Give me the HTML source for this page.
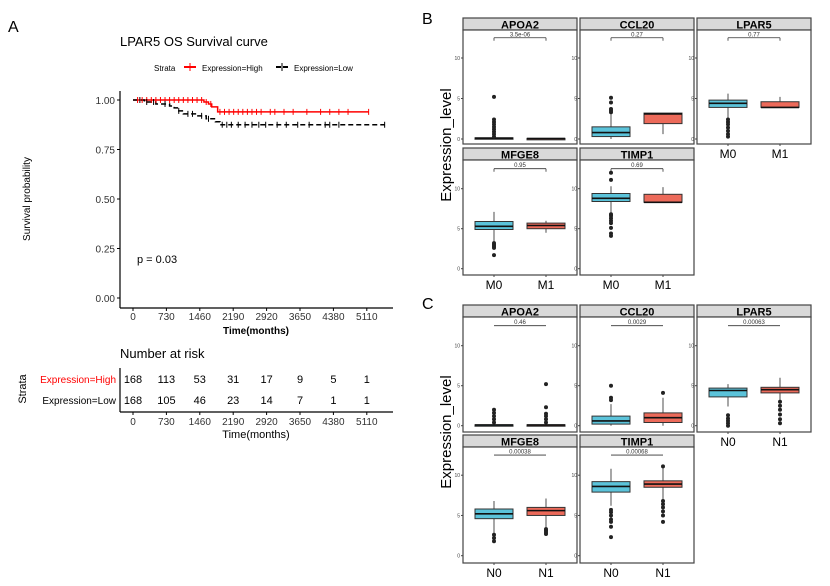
<!DOCTYPE html>
<html><head><meta charset="utf-8">
<style>
body{margin:0;background:#fff;}
svg{display:block;font-family:"Liberation Sans",Arial,sans-serif;}
</style></head>
<body>
<svg id="fig" width="830" height="586" viewBox="0 0 830 586">
</svg>
<script>
// ---- Survival data ----
const timeTicks = [0,730,1460,2190,2920,3650,4380,5110];
const survTicks = [0,0.25,0.5,0.75,1.0];
const survTickLabels = ["0.00","0.25","0.50","0.75","1.00"];
const highTimes = [0,1550,1650,1720,1850,5150];
const highSurv  = [1.0,0.99,0.98,0.965,0.94,0.94];
const highCens  = [100,200,300,400,500,600,700,800,900,1000,1100,1200,1300,1400,1500,1600,1700,1900,2000,2100,2200,2300,2400,2500,2600,2700,2800,3000,3100,3300,3500,3800,4100,4300,4500,4700,5150];
const lowTimes = [0,250,500,800,900,1000,1100,1400,1600,1800,1900,5500];
const lowSurv  = [1.0,0.99,0.98,0.97,0.96,0.945,0.93,0.92,0.905,0.89,0.875,0.875];
const lowCens  = [150,300,450,700,1000,1200,1300,1500,1650,1950,2050,2150,2300,2450,2600,2750,2900,3150,3350,3600,3850,4200,4300,4500,5500];
const riskHigh = [168,113,53,31,17,9,5,1];
const riskLow  = [168,105,46,23,14,7,1,1];

// ---- Boxplot data: [q1, median, q3, whiskerLow, whiskerHigh] ----
const genes = ["APOA2","CCL20","LPAR5","MFGE8","TIMP1"];
const pB = ["3.5e-06","0.27","0.77","0.95","0.69"];
const pC = ["0.46","0.0029","0.00063","0.00038","0.00068"];
const boxB0 = [[0,0.1,0.15,0,0.15],[0.3,0.8,1.5,0,3.2],[3.9,4.4,4.8,2.6,5.6],[4.9,5.3,5.9,3.4,7.1],[8.4,8.8,9.4,7.0,10.3]];
const boxB1 = [[0,0.05,0.08,0,0.08],[1.9,3.1,3.2,0.6,3.2],[3.9,3.9,4.6,3.9,5.2],[5.0,5.4,5.7,4.5,6.0],[8.3,8.3,9.3,8.3,10.2]];
const outB0 = [[0.3,0.6,0.9,1.2,1.5,1.8,2.1,2.4,5.2],[3.3,3.5,3.7,4.5,5.1],[0.3,0.6,1.0,1.4,1.8,2.1,2.4],[1.7,2.6,2.8,3.0,3.2],[4.1,4.4,5.1,5.7,6.0,6.3,6.6,6.8,11.1,12.0]];
const outB1 = [[],[],[],[],[]];
const boxC0 = [[0,0.08,0.12,0,0.12],[0.2,0.6,1.2,0,2.7],[3.6,4.4,4.7,2.4,5.2],[4.6,5.2,5.8,2.8,6.8],[7.9,8.6,9.2,6.2,10.8]];
const boxC1 = [[0,0.08,0.12,0,0.12],[0.4,1.0,1.6,0,3.5],[4.1,4.5,4.8,3.2,6.0],[5.0,5.6,6.0,3.5,7.1],[8.5,8.9,9.3,7.0,10.9]];
const outC0 = [[0.4,0.8,1.2,1.6,2.0],[3.2,3.5,5.0],[0,0.3,0.6,0.9,1.3],[1.8,2.2,2.6],[2.3,3.6,4.2,4.5,5.0,5.4,5.7]];
const outC1 = [[0.4,0.8,1.2,1.5,2.3,5.2],[4.1],[0.3,0.8,1.4,2.0,2.5,3.0],[2.7,2.9,3.1,3.3],[4.2,5.0,5.5,6.0,6.4,6.8,11.1]];
const yTicksBox = [0,5,10];

const NS="http://www.w3.org/2000/svg";
const svg=document.getElementById('fig');
function el(tag,attrs,parent,text){const e=document.createElementNS(NS,tag);for(const k in attrs)e.setAttribute(k,attrs[k]);if(text!==undefined)e.textContent=text;(parent||svg).appendChild(e);return e;}

// ===== Panel A =====
const gA=el('g',{});


el('text',{x:8,y:32,'font-size':16},gA,'A');
const tA=el('text',{x:120,y:46,'font-size':13},gA,'LPAR5 OS Survival curve');

// legend
const leg=el('g',{},gA);


el('text',{x:154,y:71,'font-size':8},leg,'Strata');
el('line',{x1:184,y1:67,x2:196,y2:67,stroke:'#f00','stroke-width':2},leg);
el('line',{x1:190,y1:63,x2:190,y2:71,stroke:'#f00','stroke-width':1},leg);
const le1=el('text',{x:202,y:71,'font-size':8},leg,'Expression=High');

el('line',{x1:276,y1:67,x2:288,y2:67,stroke:'#000','stroke-width':2,'stroke-dasharray':'5,2'},leg);
el('line',{x1:282,y1:63,x2:282,y2:71,stroke:'#000','stroke-width':1},leg);
const le2=el('text',{x:294,y:71,'font-size':8},leg,'Expression=Low');


const ax={x0:133,pxPer:33.4/730,y0:298,y1:100};
function sx(t){return ax.x0+t*ax.pxPer;}
function sy(p){return ax.y0-(ax.y0-ax.y1)*p;}
el('line',{x1:120,y1:91,x2:120,y2:308,stroke:'#000','stroke-width':1.2},gA);
el('line',{x1:120,y1:308,x2:393,y2:308,stroke:'#000','stroke-width':1.2},gA);
survTicks.forEach((v,i)=>{
  el('line',{x1:117,y1:sy(v),x2:120,y2:sy(v),stroke:'#000'},gA);
  const t=el('text',{x:115,y:sy(v)+4,'font-size':10,'text-anchor':'end',fill:'#333'},gA,survTickLabels[i]);
  
});
timeTicks.forEach(v=>{
  el('line',{x1:sx(v),y1:308,x2:sx(v),y2:311,stroke:'#000'},gA);
  const t=el('text',{x:sx(v),y:320,'font-size':10,'text-anchor':'middle',fill:'#333'},gA,v);
  
});
const xl=el('text',{x:256,y:334,'font-size':10,'font-weight':'bold','text-anchor':'middle'},gA,'Time(months)');

const yl=el('text',{x:0,y:0,'font-size':10,'text-anchor':'middle',transform:'translate(30,199) rotate(-90)'},gA,'Survival probability');

const pv=el('text',{x:137,y:263,'font-size':11},gA,'p = 0.03');


function stepPath(times,surv){let d='M'+sx(times[0])+','+sy(surv[0]);for(let i=1;i<times.length;i++){d+=' H'+sx(times[i])+' V'+sy(surv[i]);}return d;}
function survAt(times,surv,t){let s=surv[0];for(let i=0;i<times.length;i++){if(times[i]<=t)s=surv[i];}return s;}
const lh=el('path',{d:stepPath(highTimes,highSurv),fill:'none',stroke:'#f00','stroke-width':1.5},gA);

const ll=el('path',{d:stepPath(lowTimes,lowSurv),fill:'none',stroke:'#000','stroke-width':1.5,'stroke-dasharray':'5,3'},gA);

highCens.forEach(t=>{const m=el('line',{x1:sx(t),x2:sx(t),y1:sy(survAt(highTimes,highSurv,t))-3,y2:sy(survAt(highTimes,highSurv,t))+3,stroke:'#f00'},gA);});
lowCens.forEach(t=>{const m=el('line',{x1:sx(t),x2:sx(t),y1:sy(survAt(lowTimes,lowSurv,t))-3,y2:sy(survAt(lowTimes,lowSurv,t))+3,stroke:'#000'},gA);});

// risk table
const rt=el('g',{},gA);


el('text',{x:120,y:358,'font-size':13},rt,'Number at risk');
el('line',{x1:120,y1:368,x2:120,y2:412,stroke:'#000','stroke-width':1.2},rt);
el('line',{x1:120,y1:412,x2:393,y2:412,stroke:'#000','stroke-width':1.2},rt);
el('text',{x:116,y:383,'font-size':10,'text-anchor':'end',fill:'#f00'},rt,'Expression=High');
el('text',{x:116,y:404,'font-size':10,'text-anchor':'end'},rt,'Expression=Low');
el('text',{x:0,y:0,'font-size':11,'text-anchor':'middle',transform:'translate(26,389) rotate(-90)'},rt,'Strata');
timeTicks.forEach((v,i)=>{
  el('text',{x:sx(v),y:383,'font-size':11,'text-anchor':'middle'},rt,riskHigh[i]);
  el('text',{x:sx(v),y:404,'font-size':11,'text-anchor':'middle'},rt,riskLow[i]);
  el('line',{x1:sx(v),y1:412,x2:sx(v),y2:415,stroke:'#000'},rt);
  el('text',{x:sx(v),y:425,'font-size':10,'text-anchor':'middle',fill:'#333'},rt,v);
});
el('text',{x:256,y:438,'font-size':11,'text-anchor':'middle'},rt,'Time(months)');

// ===== Box panels =====
function facetGrid(name,lab,labY,top,groups,pvals,b0,b1,o0,o1,bracket,ylabY){
  const g=el('g',{});
  
  
  el('text',{x:422,y:labY,'font-size':16},g,lab);
  const yt=el('text',{x:0,y:0,'font-size':15,'text-anchor':'middle',transform:'translate(451,'+ylabY+') rotate(-90)'},g,'Expression_level');
  
  const cols=[463,580,697], w=114;
  const rows=top;
  genes.forEach((gn,i)=>{
    const c=i%3, r=Math.floor(i/3);
    const x=cols[c], R=rows[r];
    const fs=el('g',{},g);
    
    
    el('rect',{x:x,y:R.s,width:w,height:12,fill:'#d9d9d9',stroke:'#444','stroke-width':1.2},fs);
    el('text',{x:x+w/2,y:R.s+10.5,'font-size':11,'font-weight':'bold','text-anchor':'middle'},fs,gn);
    el('rect',{x:x,y:R.s+12,width:w,height:R.b-R.s-12,fill:'#fff',stroke:'#444','stroke-width':1.2},fs);
    const ys=v=>R.z-v*R.u;
    yTicksBox.forEach(v=>{
      el('line',{x1:x-2,x2:x,y1:ys(v),y2:ys(v),stroke:'#444'},fs);
      el('text',{x:x-3,y:ys(v)+2,'font-size':5,'text-anchor':'end',fill:'#444'},fs,v);
    });
    const cx=[x+31,x+83];
    // bracket
    const by=ys(12.5);
    el('line',{x1:cx[0],x2:cx[1],y1:by,y2:by,stroke:'#333','stroke-width':0.8},fs);
    if(bracket){el('line',{x1:cx[0],x2:cx[0],y1:by,y2:by+3,stroke:'#333','stroke-width':0.8},fs);el('line',{x1:cx[1],x2:cx[1],y1:by,y2:by+3,stroke:'#333','stroke-width':0.8},fs);}
    el('text',{x:(cx[0]+cx[1])/2,y:by-1.5,'font-size':6,'text-anchor':'middle',fill:'#333'},fs,pvals[i]);
    [[b0[i],o0[i],'#5BC3DA'],[b1[i],o1[i],'#EC6A5A']].forEach(([b,o,col],k)=>{
      const X=cx[k];
      const wl=el('line',{x1:X,x2:X,y1:ys(b[3]),y2:ys(b[4]),stroke:'#222','stroke-width':0.8},fs);
      
      const bx=el('rect',{x:X-19,y:ys(b[2]),width:38,height:Math.max(1.5,ys(b[0])-ys(b[2])),fill:col,stroke:'#333','stroke-width':1},fs);
      
      el('line',{x1:X-19,x2:X+19,y1:ys(b[1]),y2:ys(b[1]),stroke:'#111','stroke-width':1.6},fs);
      o.forEach(v=>{const d=el('circle',{cx:X,cy:ys(v),r:2,fill:'#222'},fs);});
    });
    if(r===1||i===2){
      const yb=R.b;
      cx.forEach((X,k)=>{
        el('line',{x1:X,x2:X,y1:yb,y2:yb+2,stroke:'#444'},fs);
        el('text',{x:X,y:yb+14,'font-size':12,'text-anchor':'middle'},fs,groups[k]);
      });
    }
  });
}
facetGrid('boxplot-panel-b','B',24,[{s:18,b:144,z:139,u:8.1},{s:148,b:275,z:268.7,u:8.0}],['M0','M1'],pB,boxB0,boxB1,outB0,outB1,true,145);
facetGrid('boxplot-panel-c','C',309,[{s:305,b:432,z:425.7,u:8.0},{s:435,b:563,z:555.7,u:8.05}],['N0','N1'],pC,boxC0,boxC1,outC0,outC1,false,432);
</script>
</body></html>
